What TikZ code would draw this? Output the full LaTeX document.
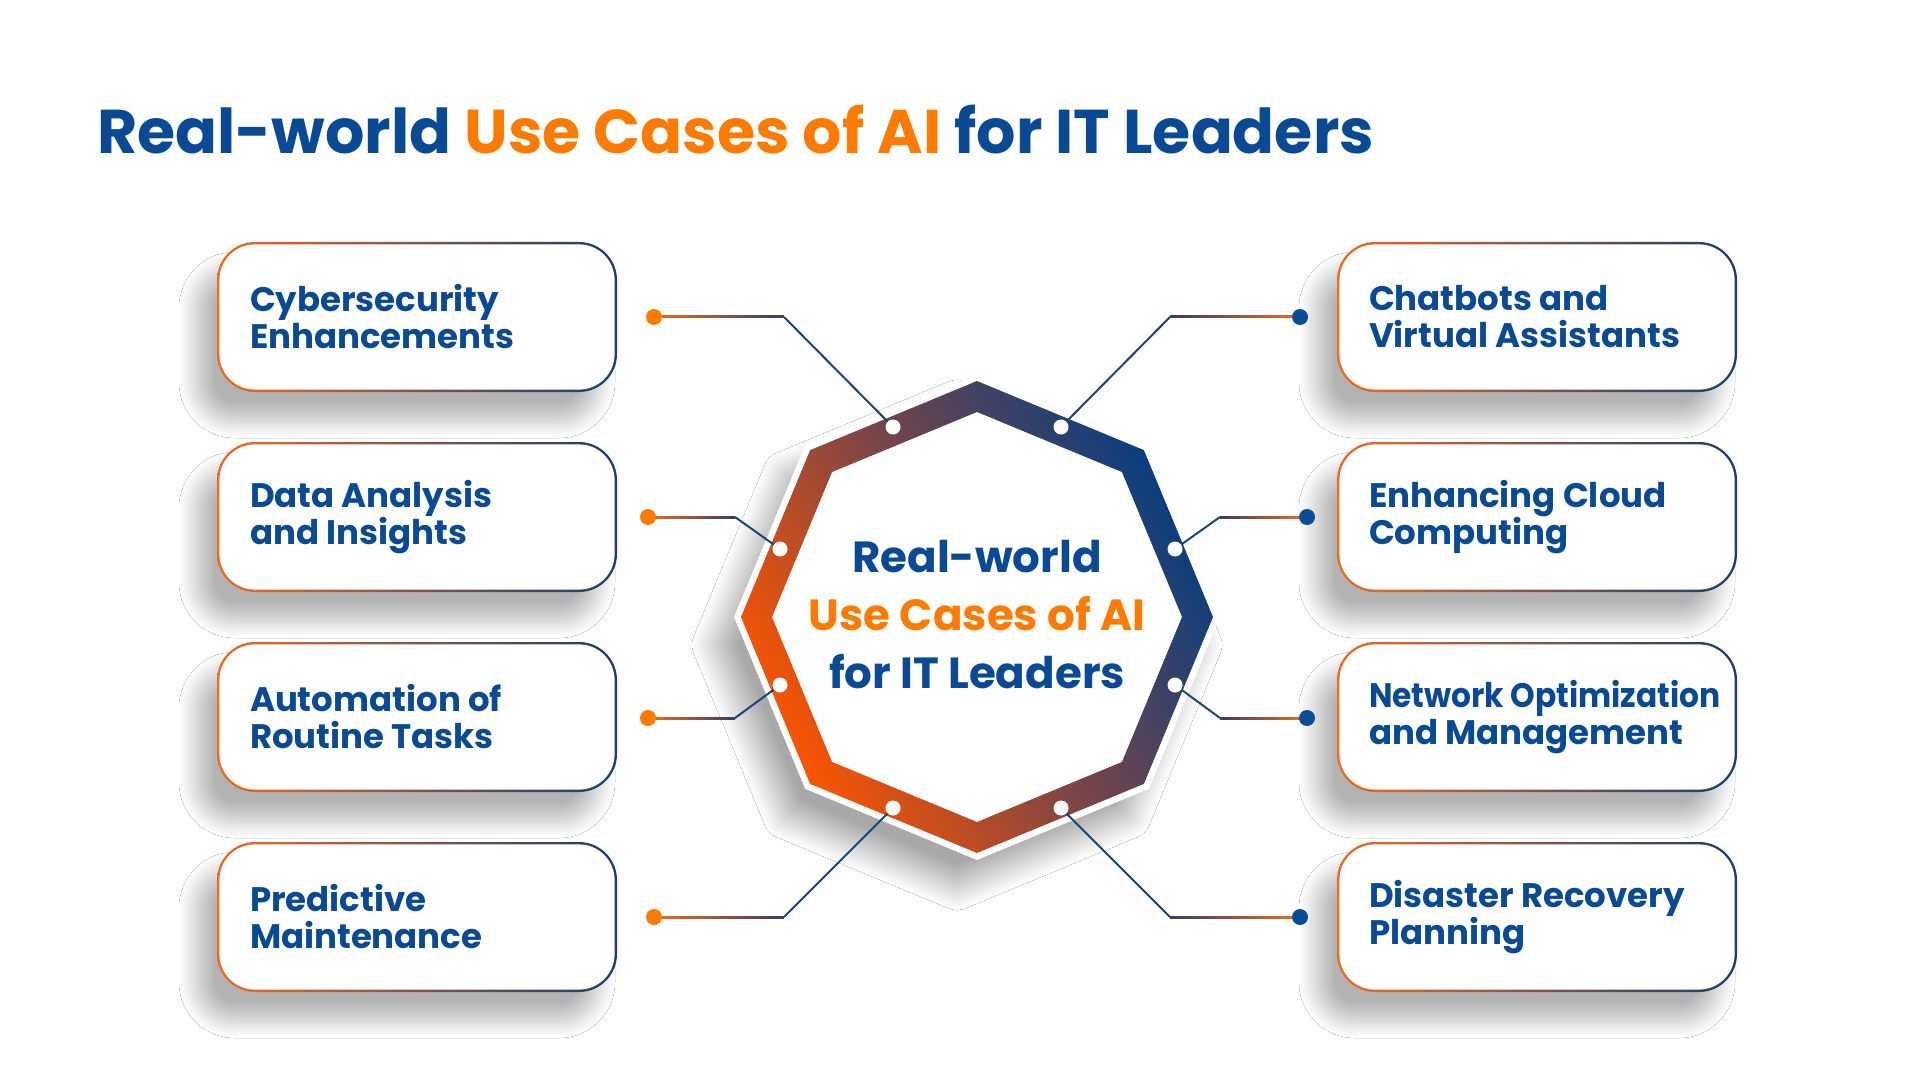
\documentclass[tikz,border=0pt]{standalone}
\usepackage{fontspec}
\usepackage{graphicx}
\setmainfont{Poppins}
\usetikzlibrary{shadows.blur,calc}
\definecolor{navy}{HTML}{0A4A95}
\definecolor{torange}{HTML}{FF7B00}
\definecolor{ringOrange}{HTML}{FF5500}
\definecolor{ringMid}{HTML}{7A4548}
\definecolor{ringBlue}{HTML}{053E80}
\definecolor{bOrange}{HTML}{F06A26}
\definecolor{bNavy}{HTML}{1A3D70}
\definecolor{dotOrange}{HTML}{FF7B00}
\definecolor{dotBlue}{HTML}{0B4C96}
\definecolor{lineOrange}{HTML}{F56A1E}
\definecolor{lineDark}{HTML}{3A3D5E}
\definecolor{lineBlue}{HTML}{1C4475}
\begin{document}
\begin{tikzpicture}[x=0.5pt,y=-0.5pt,
  box/.style={rounded corners=19pt, minimum width=200pt, minimum height=75pt, inner sep=0pt,
    blur shadow={shadow xshift=-10pt, shadow yshift=-14pt, shadow blur radius=9pt, shadow blur steps=30, shadow opacity=30},
    left color=bOrange, right color=bNavy,
    path picture={\fill[white, rounded corners=17.8pt] ([shift={(1.2pt,-1.2pt)}]path picture bounding box.north west) rectangle ([shift={(-1.2pt,1.2pt)}]path picture bounding box.south east);}},
  boxtext/.style={anchor=west, align=left, inner sep=0pt, text=navy, font=\bfseries\fontsize{17}{18.5}\selectfont},
  ringdot/.style={circle, fill=white, minimum size=7.5pt, inner sep=0pt},
  odot/.style={circle, fill=dotOrange, minimum size=8pt, inner sep=0pt},
  bdot/.style={circle, fill=dotBlue, minimum size=8pt, inner sep=0pt},
  diag/.style={draw=lineBlue, line width=1pt},
]
\useasboundingbox[fill=white] (0,0) rectangle (1920,1080);

% title
\node[anchor=base west, inner sep=0pt, font=\bfseries\fontsize{30.9}{38}\selectfont] (title) at (97,154)
  {\textcolor{navy}{Real-world} \textcolor{torange}{Use Cases of AI} \textcolor{navy}{for IT Leaders}};

% boxes
\node[box] (bx1) at (417,317) {};
\node[box] (bx2) at (417,517) {};
\node[box] (bx3) at (417,717) {};
\node[box] (bx4) at (417,917) {};
\node[box] (bx5) at (1537,317) {};
\node[box] (bx6) at (1537,517) {};
\node[box] (bx7) at (1537,717) {};
\node[box] (bx8) at (1537,917) {};

\node[boxtext] (t1) at ([xshift=16.5pt]bx1.west) {Cybersecurity\\Enhancements};
\node[boxtext] (t2) at ([xshift=16.5pt]bx2.west) {Data Analysis\\and Insights};
\node[boxtext] (t3) at ([xshift=16.5pt]bx3.west) {Automation of\\Routine Tasks};
\node[boxtext] (t4) at ([xshift=16.5pt]bx4.west) {Predictive\\Maintenance};
\node[boxtext] (t5) at ([xshift=16pt]bx5.west) {Chatbots and\\Virtual Assistants};
\node[boxtext] (t6) at ([xshift=16pt]bx6.west) {Enhancing Cloud\\Computing};
\node[boxtext] (t7) at ([xshift=16pt]bx7.west) {\scalebox{0.92}[1]{Network Optimization}\\and Management};
\node[boxtext] (t8) at ([xshift=16pt]bx8.west) {Disaster Recovery\\Planning};

% octagon ring
\begin{scope}[shift={(977,617)}]
  \path[fill=white, blur shadow={shadow xshift=-10pt, shadow yshift=-14pt, shadow blur radius=11pt, shadow blur steps=30, shadow opacity=34}]
    (0:243) \foreach \a in {45,90,...,315}{ -- (\a:243)} -- cycle;
  \shade[top color=ringBlue, bottom color=ringOrange, middle color=ringMid, shading angle=-60, even odd rule]
    (0:236) \foreach \a in {45,90,...,315}{ -- (\a:236)} -- cycle
    (0:205) \foreach \a in {45,90,...,315}{ -- (\a:205)} -- cycle;
\end{scope}

\node[align=center, inner sep=0pt, font=\bfseries\fontsize{21.8}{29}\selectfont] (ctext) at (977,615)
  {\textcolor{navy}{Real-world}\\\textcolor{torange}{Use Cases of AI}\\\textcolor{navy}{for IT Leaders}};

% coordinates
\coordinate (bl1) at (784,317);
\coordinate (bl2) at (735,517);
\coordinate (bl3) at (735,718);
\coordinate (bl4) at (784,917);
\coordinate (br1) at (1170,317);
\coordinate (br2) at (1220,517);
\coordinate (br3) at (1220,718);
\coordinate (br4) at (1170,917);

\coordinate (pd1) at (654,317);
\coordinate (pd2) at (648,517);
\coordinate (pd3) at (648,718);
\coordinate (pd4) at (654,917);
\coordinate (pe1) at (1300,317);
\coordinate (pe2) at (1307,517);
\coordinate (pe3) at (1307,718);
\coordinate (pe4) at (1300,917);

\coordinate (pr1) at (893,427);
\coordinate (pr2) at (780,549);
\coordinate (pr3) at (780,685);
\coordinate (pr4) at (893,808);
\coordinate (pr5) at (1061,427);
\coordinate (pr6) at (1175,549);
\coordinate (pr7) at (1175,685);
\coordinate (pr8) at (1061,808);

% connectors
\foreach \i in {1,2,3,4}{
  \shade[left color=lineOrange, right color=lineDark] ([yshift=0.5pt]pd\i) rectangle ([yshift=-0.5pt]bl\i);
  \draw[diag] (bl\i) -- (pr\i);
}
\foreach \i/\j in {1/5,2/6,3/7,4/8}{
  \shade[left color=lineDark, right color=lineOrange] ([yshift=0.5pt]br\i) rectangle ([yshift=-0.5pt]pe\i);
  \draw[diag] (br\i) -- (pr\j);
}

% dots
\foreach \i in {1,...,8}{ \node[ringdot] (r\i) at (pr\i) {}; }
\foreach \i in {1,...,4}{ \node[odot] (d\i) at (pd\i) {}; \node[bdot] (e\i) at (pe\i) {}; }

\end{tikzpicture}
\end{document}
